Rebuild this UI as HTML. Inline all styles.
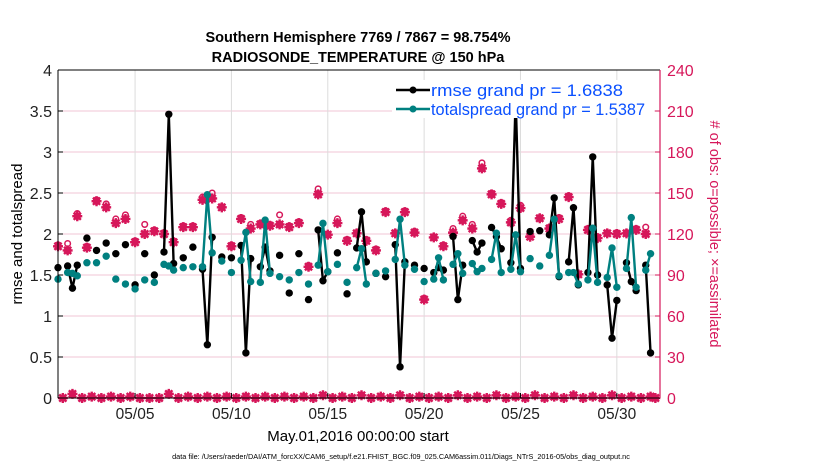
<!DOCTYPE html>
<html><head><meta charset="utf-8">
<style>
html,body{margin:0;padding:0;background:#fff;}
svg text{font-family:"Liberation Sans",Arial,sans-serif;}
</style></head>
<body>
<svg id="chart" width="830" height="470" viewBox="0 0 830 470" xmlns="http://www.w3.org/2000/svg">
<rect x="0" y="0" width="830" height="470" fill="#fff"/>
<text x="358" y="42" text-anchor="middle" font-size="14.5" font-weight="bold">Southern Hemisphere 7769 / 7867 = 98.754%</text>
<text x="358" y="62" text-anchor="middle" font-size="14.5" font-weight="bold">RADIOSONDE_TEMPERATURE @ 150 hPa</text>
<g id="grid"></g>
<g id="marks"></g>
<g id="axes"></g>
<text transform="translate(22,234) rotate(-90)" text-anchor="middle" font-size="15">rmse and totalspread</text>
<text transform="translate(710,234) rotate(90)" text-anchor="middle" font-size="14.5" fill="#d6175a"># of obs: o=possible; ×=assimilated</text>
<text x="358" y="441" text-anchor="middle" font-size="15">May.01,2016 00:00:00 start</text>
<text x="401" y="459" text-anchor="middle" font-size="7.3">data file: /Users/raeder/DAI/ATM_forcXX/CAM6_setup/f.e21.FHIST_BGC.f09_025.CAM6assim.011/Diags_NTrS_2016-05/obs_diag_output.nc</text>
<g id="legend">
  <rect x="392" y="80" width="262" height="38" fill="#fff"/>
  <line x1="396" y1="90" x2="430" y2="90" stroke="#000" stroke-width="2.5"/>
  <circle cx="413" cy="90" r="3.5" fill="#000"/>
  <text x="431" y="96" font-size="16.5" textLength="192" lengthAdjust="spacingAndGlyphs" fill="#0a50ff">rmse grand pr = 1.6838</text>
  <line x1="396" y1="109" x2="430" y2="109" stroke="#008080" stroke-width="2.5"/>
  <circle cx="413" cy="109" r="3.5" fill="#008080"/>
  <text x="431" y="115" font-size="16.5" textLength="214" lengthAdjust="spacingAndGlyphs" fill="#0a50ff">totalspread grand pr = 1.5387</text>
</g>
</svg>
<script>
const times = [0,0.5,0.75,1,1.5,2,2.5,3,3.5,4,4.5,5,5.5,5.75,6,6.5,7,7.5,7.75,8,8.5,9,9.5,9.75,10,10.5,10.75,11,11.5,12,12.5,13,13.5,13.75,14,14.5,15,15.5,15.75,16,16.5,17,17.5,17.75,18,18.5,19,19.5,19.75,20,20.5,20.75,21,21.5,21.75,22,22.5,22.75,23,23.5,23.75,24,24.5,25,25.5,25.75,26,26.5,26.75,27,27.5,27.75,28,28.5,28.75,29,29.5,29.75,30,30.5,30.75];
const rmse = [1.59,1.61,1.34,1.62,1.95,1.80,1.89,1.76,1.87,1.38,1.76,1.50,1.78,3.46,1.64,1.71,1.84,1.57,0.65,1.96,1.72,1.71,1.86,0.55,1.70,1.60,1.84,1.55,1.74,1.28,1.76,1.20,2.05,1.43,1.54,1.77,1.27,1.83,2.27,1.66,1.52,1.48,1.87,0.38,1.66,1.62,1.58,1.53,1.59,1.56,1.97,1.20,1.62,1.92,1.78,1.89,2.08,1.97,1.82,1.65,3.65,1.58,2.03,2.04,1.99,2.44,1.48,1.66,2.32,1.38,1.53,2.94,1.50,1.38,0.73,1.19,1.65,1.42,1.31,1.62,0.55];
const spread = [1.45,1.53,1.52,1.49,1.65,1.65,1.73,1.45,1.39,1.33,1.44,1.41,1.63,1.61,1.56,1.59,1.60,1.60,2.48,1.77,1.67,1.53,1.68,2.02,1.42,1.41,2.17,1.52,1.48,1.44,1.53,1.39,1.62,2.13,1.54,1.63,1.41,1.59,1.82,1.39,1.52,1.55,1.69,2.18,1.62,1.57,1.42,1.45,1.71,1.44,1.63,1.76,1.52,1.64,1.54,1.58,1.69,2.01,1.53,1.57,1.99,1.54,1.70,1.61,1.74,2.18,1.49,1.53,1.53,1.39,1.44,2.07,1.41,1.47,1.83,1.35,1.58,2.20,1.35,1.56,1.76];
const obsTimes = [0,0.5,1,1.5,2,2.5,3,3.5,4,4.5,5,5.5,6,6.5,7,7.5,8,8.5,9,9.5,10,10.5,11,11.5,12,12.5,13,13.5,14,14.5,15,15.5,16,16.5,17,17.5,18,18.5,19,19.5,20,20.5,21,21.5,22,22.5,23,23.5,24,24.5,25,25.5,26,26.5,27,27.5,28,28.5,29,29.5,30,30.5];
const assimilated = [111,108,133,110,144,139.5,128,131,114,120,122,120,114,125,125,145,146,139.5,111,131,124,127,126,127,125,128,96,149,119.5,128,115,120.5,115,108,136,120.5,136,121,72,117.5,111,121,130,124,168,149,142,128.5,139,118,131.5,124,131,147,90.5,123,117,120.5,120,120.5,123,120];
const possible = [112,113,135,111,145,142,131,134,115,127,123,121,115,126,126,147,150,140,112,132,127,128,127,134,126,129,97,153,120,131,116,121,116,109,137,121,137,122,73,118,112,124,133,127,172,150,143,130,141,119,132,125,132,148,91,124,118,121,121,121,124,125];
const lowTimes = [0.25,0.75,1.25,1.75,2.25,2.75,3.25,3.75,4.25,4.75,5.25,5.75,6.25,6.75,7.25,7.75,8.25,8.75,9.25,9.75,10.25,10.75,11.25,11.75,12.25,12.75,13.25,13.75,14.25,14.75,15.25,15.75,16.25,16.75,17.25,17.75,18.25,18.75,19.25,19.75,20.25,20.75,21.25,21.75,22.25,22.75,23.25,23.75,24.25,24.75,25.25,25.75,26.25,26.75,27.25,27.75,28.25,28.75,29.25,29.75,30.25,30.75,31.0];
const lowCounts = [0,3,0,1,0,1,0,1,0,0,0,3,0,1,0,1,0,1,0,1,0,1,0,1,0,1,0,2,0,1,0,2,0,1,0,2,0,1,0,1,0,2,0,1,0,2,0,1,0,2,0,1,0,2,0,1,0,2,0,1,0,1,0];
const yTicks = [0,0.5,1,1.5,2,2.5,3,3.5,4];
const yTickLabels = ["0","0.5","1","1.5","2","2.5","3","3.5","4"];
const y2Ticks = [0,30,60,90,120,150,180,210,240];
const xTickDays = [4,9,14,19,24,29];
const xTickLabels = ["05/05","05/10","05/15","05/20","05/25","05/30"];

const X0=58, X1=660, Y0=398, Y1=70, DAYS=31.24;
const NS="http://www.w3.org/2000/svg";
const PINK="#d6175a", TEAL="#008080";
function xs(t){return X0+(t/DAYS)*(X1-X0);}
function ys(v){return Y0-(v/4)*(Y0-Y1);}
function ys2(c){return Y0-(c/240)*(Y0-Y1);}
function mk(tag,attrs,parent){const e=document.createElementNS(NS,tag);for(const k in attrs)e.setAttribute(k,attrs[k]);parent.appendChild(e);return e;}
const grid=document.getElementById('grid'),marks=document.getElementById('marks'),axes=document.getElementById('axes');

yTicks.forEach((v,i)=>{
  if(i>0&&i<yTicks.length-1){const g=mk('line',{x1:X0,x2:X1,y1:ys(v),y2:ys(v),stroke:'#f2c6d6','stroke-width':1},grid);
  
  }
  const l=mk('line',{x1:X0,x2:X0+5,y1:ys(v),y2:ys(v),stroke:'#000'},axes);
  const t=mk('text',{x:X0-6,y:ys(v)+6,'text-anchor':'end','font-size':16,fill:'#222'},axes);t.textContent=yTickLabels[i];
  
  
});
y2Ticks.forEach(c=>{
  mk('line',{x1:X1-5,x2:X1,y1:ys2(c),y2:ys2(c),stroke:PINK},axes);
  const t=mk('text',{x:X1+7,y:ys2(c)+6,'font-size':16,fill:PINK},axes);t.textContent=String(c);
  
  
});
xTickDays.forEach((d,i)=>{
  const g=mk('line',{x1:xs(d),x2:xs(d),y1:Y1,y2:Y0,stroke:'#dcdcdc'},grid);
  
  
  mk('line',{x1:xs(d),x2:xs(d),y1:Y0,y2:Y0-5,stroke:'#000'},axes);
  const t=mk('text',{x:xs(d),y:419,'text-anchor':'middle','font-size':15.5,fill:'#222'},axes);t.textContent=xTickLabels[i];
  
  
});
mk('line',{x1:X0,x2:X1,y1:Y1,y2:Y1,stroke:'#000'},axes);
mk('line',{x1:X0,x2:X1,y1:Y0,y2:Y0,stroke:'#000'},axes);
mk('line',{x1:X0,x2:X0,y1:Y1,y2:Y0,stroke:'#000'},axes);
mk('line',{x1:X1,x2:X1,y1:Y1,y2:Y0,stroke:PINK,'stroke-width':1.2},axes);

function star(cx,cy,name){
  const g=mk('g',{},marks);
  
  
  mk('path',{d:`M${cx-5},${cy}H${cx+5}M${cx},${cy-5}V${cy+5}M${cx-3.6},${cy-3.6}L${cx+3.6},${cy+3.6}M${cx-3.6},${cy+3.6}L${cx+3.6},${cy-3.6}`,stroke:PINK,'stroke-width':2.4},g);
  mk('circle',{cx:cx,cy:cy,r:3.8,fill:PINK},g);
}
obsTimes.forEach((t,i)=>{
  const c=mk('circle',{cx:xs(t),cy:ys2(possible[i]),r:2.8,fill:'none',stroke:PINK,'stroke-width':1.5},marks);
  
  
  star(xs(t),ys2(assimilated[i]),'assimilated-obs-marker');
});
lowTimes.forEach((t,i)=>{
  star(xs(t),ys2(lowCounts[i]),'assimilated-obs-marker-low');
});

function series(vals,color,name){
  let d='';
  for(let i=0;i<times.length;i++){
    if(i>0&&Math.abs(times[i]-times[i-1]-0.25)<1e-6) d+=`L${xs(times[i])},${ys(vals[i])}`;
    else d+=`M${xs(times[i])},${ys(vals[i])}`;
  }
  const p=mk('path',{d:d,fill:'none',stroke:color,'stroke-width':2.4,'stroke-linejoin':'round'},marks);
  
  
  times.forEach((t,i)=>{
    const c=mk('circle',{cx:xs(t),cy:ys(vals[i]),r:3.7,fill:color},marks);
    
    
  });
}
series(rmse,'#000','rmse');
series(spread,TEAL,'totalspread');
document.getElementById('chart').appendChild(document.getElementById('legend'));
</script>
</body></html>
